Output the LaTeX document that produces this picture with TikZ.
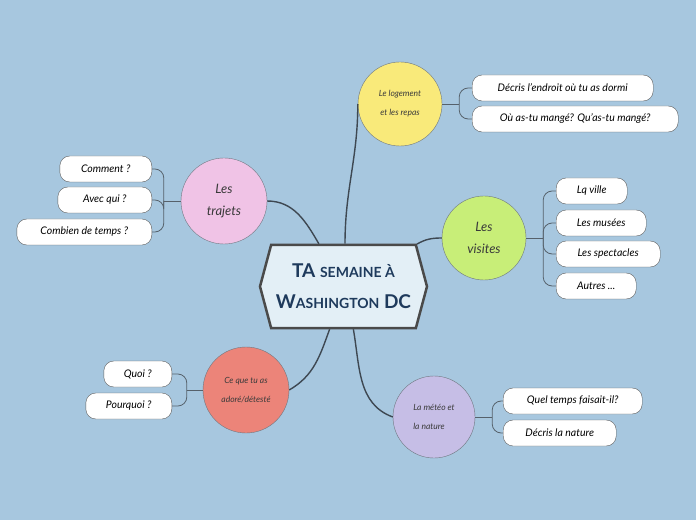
\documentclass[tikz,border=0pt]{standalone}
\usepackage{fontspec}
\setmainfont{Lato}
\usetikzlibrary{shapes.symbols}
\definecolor{mmsky}{HTML}{A7C7DF}
\definecolor{mmice}{HTML}{E3EFF6}
\definecolor{mmhub}{HTML}{4A4A4A}
\definecolor{mmnavy}{HTML}{1E3A5C}
\definecolor{mmsun}{HTML}{F9EA7A}
\definecolor{mmrose}{HTML}{F0C3E6}
\definecolor{mmlime}{HTML}{C8EE78}
\definecolor{mmcoral}{HTML}{EC8479}
\definecolor{mmlilac}{HTML}{C6BEE6}
\definecolor{mmring}{HTML}{6E7780}
\definecolor{mmrim}{HTML}{5A5A5A}
\definecolor{mmwire}{HTML}{56616B}
\definecolor{mmdark}{HTML}{3E4852}
\definecolor{mmink}{HTML}{3A3A3A}

\begin{document}
\begin{tikzpicture}[x=1pt, y=1pt, font=\itshape,
          tp/.style={circle, draw=mmring, inner sep=0pt, align=center, text=mmink},
          lf/.style={draw=mmrim, fill=white, rounded corners=10pt, minimum height=26pt, inner sep=0pt, font=\fontsize{10.5}{12}\selectfont\itshape},
          br/.style={draw=mmwire, line width=.8pt, rounded corners=9pt},
          ln/.style={draw=mmdark, line width=1.4pt}]
          \fill[mmsky] (0,0) rectangle (696,520);
          \useasboundingbox (0,0) rectangle (696,520);
          % centre
          \node[signal, signal to=west and east, signal pointer angle=150, draw=mmhub, line width=2.5pt, fill=mmice,
                minimum width=167pt, minimum height=83pt, text=mmnavy, align=center, font=\fontsize{19}{31}\selectfont\upshape\bfseries]
                (hub) at (343.5,233.5) {TA {\fontsize{14}{31}\selectfont SEMAINE À}\\W{\fontsize{14}{31}\selectfont ASHINGTON} DC};
          % topics
          \node[tp, fill=mmsun, minimum size=84pt, font=\fontsize{8.5}{19}\selectfont\itshape] (lo) at (400,416) {Le logement\\et les repas};
          \node[tp, fill=mmrose, minimum size=86pt, font=\fontsize{13}{22}\selectfont\itshape] (tr) at (224,319) {Les\\trajets};
          \node[tp, fill=mmlime, minimum size=84pt, font=\fontsize{13}{22}\selectfont\itshape] (vi) at (484,282) {Les\\visites};
          \node[tp, fill=mmcoral, minimum size=86pt, font=\fontsize{8.5}{19}\selectfont\itshape] (ad) at (246,130) {Ce que tu as\\adoré/détesté};
          \node[tp, fill=mmlilac, minimum size=82pt, align=left, font=\fontsize{8.5}{19}\selectfont\itshape] (me) at (434,103) {La météo et\\la nature};
          \draw[ln] (hub.88) to[out=90, in=-90] (lo.west);
          \draw[ln] (hub.120) to[out=120, in=0] (tr.east);
          \draw[ln] (hub.30) to[out=30, in=180] (vi.west);
          \draw[ln] (hub.-108) to[out=-110, in=30] (ad.east);
          \draw[ln] (hub.-77) to[out=-80, in=160] (me.west);
          % junctions
          \draw[br] (lo.east) -- ++(17,0) coordinate (jlo);
          \draw[br] (tr.west) -- ++(-17,0) coordinate (jtr);
          \draw[br] (vi.east) -- ++(17,0) coordinate (jvi);
          \draw[br] (ad.west) -- ++(-16,0) coordinate (jad);
          \draw[br] (me.east) -- ++(17,0) coordinate (jme);
          % leaves
          \foreach \n/\y/\w/\t in {lo1/432/181/{Décris l'endroit où tu as dormi}, lo2/401/206/{Où as-tu mangé? Qu'as-tu mangé?}} {
            \node[lf, anchor=west, minimum width=\w pt] (\n) at (472,\y) {\t};
            \draw[br] (jlo) |- (\n.west);}
          \foreach \n/\y/\w/\t in {tr1/351/92/{Comment ?}, tr2/320/94/{Avec qui ?}, tr3/288/135/{Combien de temps ?}} {
            \node[lf, anchor=east, minimum width=\w pt] (\n) at (152,\y) {\t};
            \draw[br] (jtr) |- (\n.east);}
          \foreach \n/\y/\w/\t in {vi1/329/71/{Lq ville}, vi2/297/90/{Les musées}, vi3/266/104/{Les spectacles}, vi4/234/80/{Autres ...}} {
            \node[lf, anchor=west, minimum width=\w pt] (\n) at (556,\y) {\t};
            \draw[br] (jvi) |- (\n.west);}
          \foreach \n/\y/\w/\t in {ad1/146/68/{Quoi ?}, ad2/114/86/{Pourquoi ?}} {
            \node[lf, anchor=east, minimum width=\w pt] (\n) at (172,\y) {\t};
            \draw[br] (jad) |- (\n.east);}
          \foreach \n/\y/\w/\t in {me1/119/139/{Quel temps faisait-il?}, me2/87/113/{Décris la nature}} {
            \node[lf, anchor=west, minimum width=\w pt] (\n) at (503,\y) {\t};
            \draw[br] (jme) |- (\n.west);}
        \end{tikzpicture}
\end{document}
